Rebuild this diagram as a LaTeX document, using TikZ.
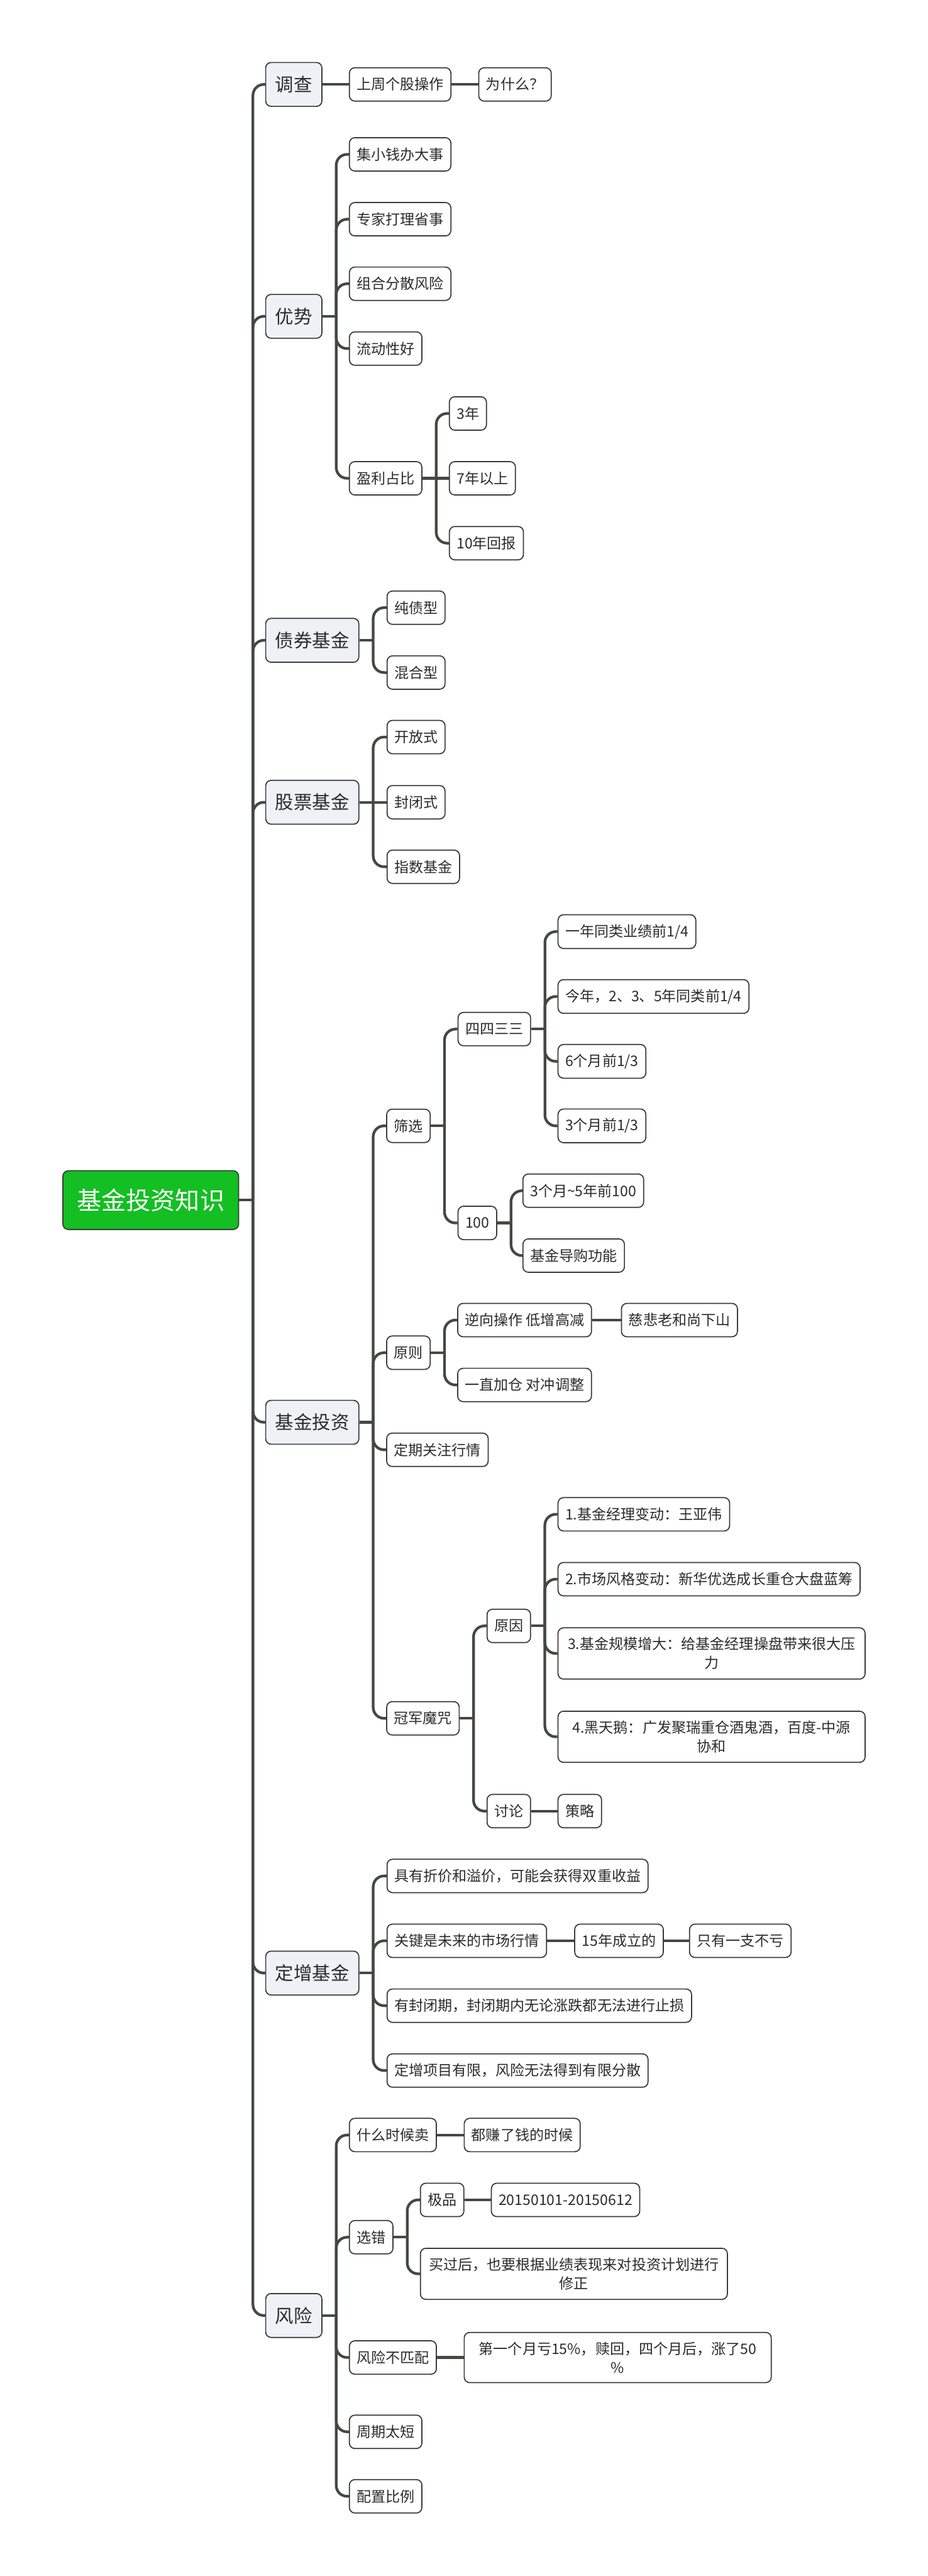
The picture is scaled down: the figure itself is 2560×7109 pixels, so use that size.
\documentclass[tikz,border=0pt]{standalone}
\usepackage{fontspec}
\newfontfamily\cjk{Noto Sans CJK SC}
\usepackage{tikz}

\definecolor{linegray}{HTML}{434843}
\definecolor{boxgray}{HTML}{3A3A3A}
\definecolor{topicfill}{HTML}{EEF1F5}
\definecolor{rootgreen}{HTML}{13BF22}
\definecolor{textgray}{HTML}{2B2B2B}

\begin{document}
\begin{tikzpicture}[x=0.01cm, y=-0.01cm,
    every node/.style={draw=boxgray, line width=0.85pt, rounded corners=0.15cm, anchor=west, text=textgray},
    root/.style={fill=rootgreen, text=white, font=\cjk\fontsize{0.68cm}{0.8cm}\selectfont, minimum height=1.62cm, inner xsep=0.385cm},
    topic/.style={fill=topicfill, font=\cjk\fontsize{0.51cm}{0.62cm}\selectfont, minimum height=1.21cm, inner xsep=0.265cm},
    item/.style={fill=white, font=\cjk\fontsize{0.4cm}{0.52cm}\selectfont, minimum height=0.92cm, inner xsep=0.2cm, inner ysep=0.26cm},
    wide/.style={item, align=center, text width=8.07cm},
    link/.style={draw=linegray, line width=2.1pt, rounded corners=0.3cm},
    fork/.style={to path={([xshift=0.38cm]\tikztostart.east) |- (\tikztotarget.west)}}]
    \fill[white] (0,0) rectangle (2560,7109);
    \useasboundingbox (0,0) rectangle (2560,7109);

    \node[root] (root) at (172,3312){基金投资知识};

    \node[topic] (dc) at (732,233){调查};
    \node[topic] (ys) at (732,873){优势};
    \node[topic] (zq) at (732,1767){债券基金};
    \node[topic] (gp) at (732,2214){股票基金};
    \node[topic] (tz) at (732,3925){基金投资};
    \node[topic] (dz) at (732,5445){定增基金};
    \node[topic] (fx) at (732,6390){风险};

    % 调查
    \node[item] (dc1) at (963,233){上周个股操作};
    \node[item] (dc2) at (1320,233){为什么？};

    % 优势
    \node[item] (ys1) at (963,426){集小钱办大事};
    \node[item] (ys2) at (963,605){专家打理省事};
    \node[item] (ys3) at (963,783){组合分散风险};
    \node[item] (ys4) at (963,962){流动性好};
    \node[item] (ys5) at (963,1320){盈利占比};
    \node[item] (yl1) at (1239,1141){3年};
    \node[item] (yl2) at (1239,1320){7年以上};
    \node[item] (yl3) at (1239,1499){10年回报};

    % 债券基金, 股票基金
    \node[item] (zq1) at (1067,1677){纯债型};
    \node[item] (zq2) at (1067,1856){混合型};
    \node[item] (gp1) at (1067,2034){开放式};
    \node[item] (gp2) at (1067,2214){封闭式};
    \node[item] (gp3) at (1067,2392){指数基金};

    % 基金投资
    \node[item] (sx) at (1066,3107){筛选};
    \node[item] (yz) at (1066,3733){原则};
    \node[item] (gz) at (1066,4001){定期关注行情};
    \node[item] (gj) at (1066,4742){冠军魔咒};
    \node[item] (sx1) at (1263,2840){四四三三};
    \node[item] (sx2) at (1263,3375){100};
    \node[item] (s41) at (1539,2571){一年同类业绩前1/4};
    \node[item] (s42) at (1539,2750){今年，2、3、5年同类前1/4};
    \node[item] (s43) at (1539,2929){6个月前1/3};
    \node[item] (s44) at (1539,3107){3个月前1/3};
    \node[item] (s101) at (1442,3286){3个月\textasciitilde 5年前100};
    \node[item] (s102) at (1442,3465){基金导购功能};
    \node[item] (yz1) at (1262,3643){逆向操作 低增高减};
    \node[item] (yz1a) at (1714,3643){慈悲老和尚下山};
    \node[item] (yz2) at (1262,3822){一直加仓 对冲调整};
    \node[item] (yy) at (1343,4487){原因};
    \node[item] (tl) at (1343,4998){讨论};
    \node[item] (yy1) at (1539,4179){1.基金经理变动：王亚伟};
    \node[item] (yy2) at (1539,4358){2.市场风格变动：新华优选成长重仓大盘蓝筹};
    \node[wide] (yy3) at (1539,4563){3.基金规模增大：给基金经理操盘带来很大压\\力};
    \node[wide] (yy4) at (1539,4793){4.黑天鹅：广发聚瑞重仓酒鬼酒，百度-中源\\协和};
    \node[item] (tl1) at (1539,4998){策略};

    % 定增基金
    \node[item] (dz1) at (1067,5177){具有折价和溢价，可能会获得双重收益};
    \node[item] (dz2) at (1067,5356){关键是未来的市场行情};
    \node[item] (dz2a) at (1585,5356){15年成立的};
    \node[item] (dz2b) at (1902,5356){只有一支不亏};
    \node[item] (dz3) at (1067,5535){有封闭期，封闭期内无论涨跌都无法进行止损};
    \node[item] (dz4) at (1067,5714){定增项目有限，风险无法得到有限分散};

    % 风险
    \node[item] (fx1) at (963,5892){什么时候卖};
    \node[item] (fx1a) at (1280,5892){都赚了钱的时候};
    \node[item] (fx2) at (963,6174){选错};
    \node[item] (xc1) at (1159,6071){极品};
    \node[item] (xc1a) at (1355,6071){20150101-20150612};
    \node[wide] (xc2) at (1159,6275){买过后，也要根据业绩表现来对投资计划进行\\修正};
    \node[item] (fx3) at (963,6506){风险不匹配};
    \node[wide] (fx3a) at (1280,6506){第一个月亏15\%，赎回，四个月后，涨了50\\\%};
    \node[item] (fx4) at (963,6711){周期太短};
    \node[item] (fx5) at (963,6889){配置比例};

    % stubs
    \draw[link] (root.east) -- ++(38,0);
    \draw[link] (ys.east) -- ++(38,0);
    \draw[link] (zq.east) -- ++(38,0);
    \draw[link] (tz.east) -- ++(38,0);
    \draw[link] (sx.east) -- ++(38,0);
    \draw[link] (sx1.east) -- ++(38,0);
    \draw[link] (sx2.east) -- ++(38,0);
    \draw[link] (yz.east) -- ++(38,0);
    \draw[link] (gj.east) -- ++(38,0);
    \draw[link] (yy.east) -- ++(38,0);
    \draw[link] (dz.east) -- ++(38,0);
    \draw[link] (fx.east) -- ++(38,0);
    \draw[link] (fx2.east) -- ++(38,0);

    % forks
    \draw[link] (root) to[fork] (dc);
    \draw[link] (root) to[fork] (ys);
    \draw[link] (root) to[fork] (zq);
    \draw[link] (root) to[fork] (gp);
    \draw[link] (root) to[fork] (tz);
    \draw[link] (root) to[fork] (dz);
    \draw[link] (root) to[fork] (fx);

    \draw[link] (ys) to[fork] (ys1);
    \draw[link] (ys) to[fork] (ys2);
    \draw[link] (ys) to[fork] (ys3);
    \draw[link] (ys) to[fork] (ys4);
    \draw[link] (ys) to[fork] (ys5);
    \draw[link] (ys5) to[fork] (yl1);
    \draw[link] (ys5) to[fork] (yl3);

    \draw[link] (zq) to[fork] (zq1);
    \draw[link] (zq) to[fork] (zq2);
    \draw[link] (gp) to[fork] (gp1);
    \draw[link] (gp) to[fork] (gp3);

    \draw[link] (tz) to[fork] (sx);
    \draw[link] (tz) to[fork] (yz);
    \draw[link] (tz) to[fork] (gz);
    \draw[link] (tz) to[fork] (gj);
    \draw[link] (sx) to[fork] (sx1);
    \draw[link] (sx) to[fork] (sx2);
    \draw[link] (sx1) to[fork] (s41);
    \draw[link] (sx1) to[fork] (s42);
    \draw[link] (sx1) to[fork] (s43);
    \draw[link] (sx1) to[fork] (s44);
    \draw[link] (sx2) to[fork] (s101);
    \draw[link] (sx2) to[fork] (s102);
    \draw[link] (yz) to[fork] (yz1);
    \draw[link] (yz) to[fork] (yz2);
    \draw[link] (gj) to[fork] (yy);
    \draw[link] (gj) to[fork] (tl);
    \draw[link] (yy) to[fork] (yy1);
    \draw[link] (yy) to[fork] (yy2);
    \draw[link] (yy) to[fork] (yy3);
    \draw[link] (yy) to[fork] (yy4);

    \draw[link] (dz) to[fork] (dz1);
    \draw[link] (dz) to[fork] (dz2);
    \draw[link] (dz) to[fork] (dz3);
    \draw[link] (dz) to[fork] (dz4);

    \draw[link] (fx) to[fork] (fx1);
    \draw[link] (fx) to[fork] (fx2);
    \draw[link] (fx) to[fork] (fx3);
    \draw[link] (fx) to[fork] (fx4);
    \draw[link] (fx) to[fork] (fx5);
    \draw[link] (fx2) to[fork] (xc1);
    \draw[link] (fx2) to[fork] (xc2);

    % straight links
    \draw[link] (dc) -- (dc1);
    \draw[link] (dc1) -- (dc2);
    \draw[link] (ys5) -- (yl2);
    \draw[link] (gp) -- (gp2);
    \draw[link] (yz1) -- (yz1a);
    \draw[link] (tl) -- (tl1);
    \draw[link] (dz2) -- (dz2a);
    \draw[link] (dz2a) -- (dz2b);
    \draw[link] (fx1) -- (fx1a);
    \draw[link] (xc1) -- (xc1a);
    \draw[link] (fx3) -- (fx3a);
\end{tikzpicture}
\end{document}
